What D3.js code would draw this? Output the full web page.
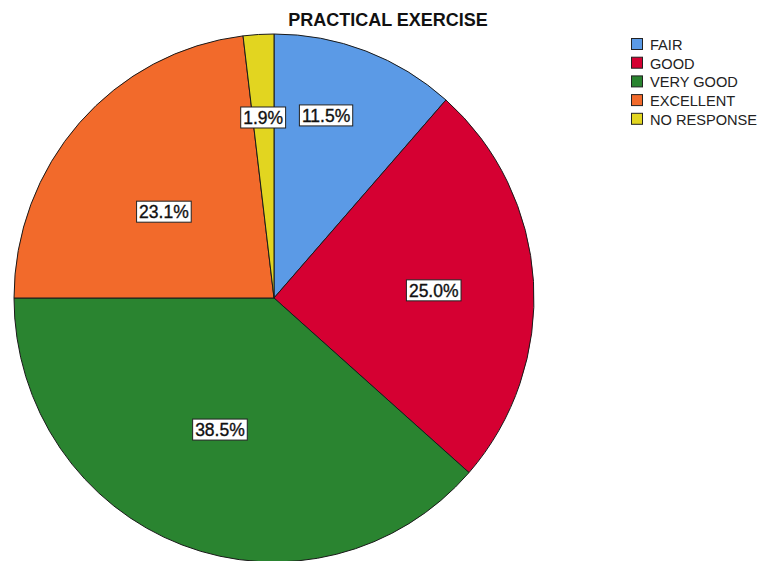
<!DOCTYPE html>
<html><head><meta charset="utf-8">
<script src="https://cdn.jsdelivr.net/npm/d3@7"></script>
<style>body{margin:0;background:#fff;}svg{display:block;}</style>
</head><body>
<svg id="c" width="768" height="561"></svg>
<script>
const categories = ["FAIR","GOOD","VERY GOOD","EXCELLENT","NO RESPONSE"];
const values = [11.5, 25.0, 38.5, 23.1, 1.9];
const colors = ["#5b9ae6","#d50032","#2a8430","#f26a2b","#e2d520"];
const title = "PRACTICAL EXERCISE";
// label placement layout (fraction within slice angle, radius fraction)
const labelT = [0.39, 0.51, 0.514, 0.453, 0.49];
const labelK = [0.72, 0.615, 0.54, 0.535, 0.685];

const svg = d3.select("#c");
const cx = 274, cy = 298, rx = 260, ry = 264;
const font = "'Liberation Sans', Arial, sans-serif";

svg.append("text").attr("x", 388).attr("y", 26).attr("text-anchor","middle")
  .attr("font-family", font).attr("font-weight","bold").attr("font-size", 18)
  .attr("fill","#111").text(title);

const pie = d3.pie().sort(null).value(d=>d);
const arcs = pie(values);
const arc = d3.arc().innerRadius(0).outerRadius(rx);
const g = svg.append("g").attr("transform", `translate(${cx},${cy}) scale(1,${ry/rx})`);
g.selectAll("path").data(arcs).join("path")
  .attr("d", arc).attr("fill", (d,i)=>colors[i])
  .attr("stroke","#1a1a1a").attr("stroke-width",1).attr("vector-effect","non-scaling-stroke");

const lg = svg.append("g");
arcs.forEach((d,i)=>{
  const a = d.startAngle + (d.endAngle-d.startAngle)*labelT[i];
  const r = rx*labelK[i];
  const x = cx + r*Math.sin(a), y = cy - r*Math.cos(a)*ry/rx;
  const t = lg.append("text").attr("x", x).attr("y", y+6.3).attr("text-anchor","middle")
    .attr("font-family", font).attr("font-size", 17.5).attr("fill","#111")
    .attr("stroke","#111").attr("stroke-width",0.35)
    .text(d3.format(".1f")(values[i]) + "%");
  const bb = t.node().getBBox();
  lg.insert("rect", "text").attr("x", bb.x-2.5).attr("y", y-10.5).attr("width", bb.width+5).attr("height", 21)
    .attr("fill","#fff").attr("stroke","#222").attr("stroke-width",1);
});

const leg = svg.append("g").attr("transform","translate(631,38)");
categories.forEach((c,i)=>{
  const row = leg.append("g").attr("transform",`translate(0,${i*18.7})`);
  row.append("rect").attr("x",0.5).attr("y",0.5).attr("width",11).attr("height",11)
    .attr("fill",colors[i]).attr("stroke","#222").attr("stroke-width",1);
  row.append("text").attr("x",19).attr("y",11.8).attr("font-family",font).attr("font-size",14.6)
    .attr("fill","#222").text(c);
});
</script>
</body></html>
